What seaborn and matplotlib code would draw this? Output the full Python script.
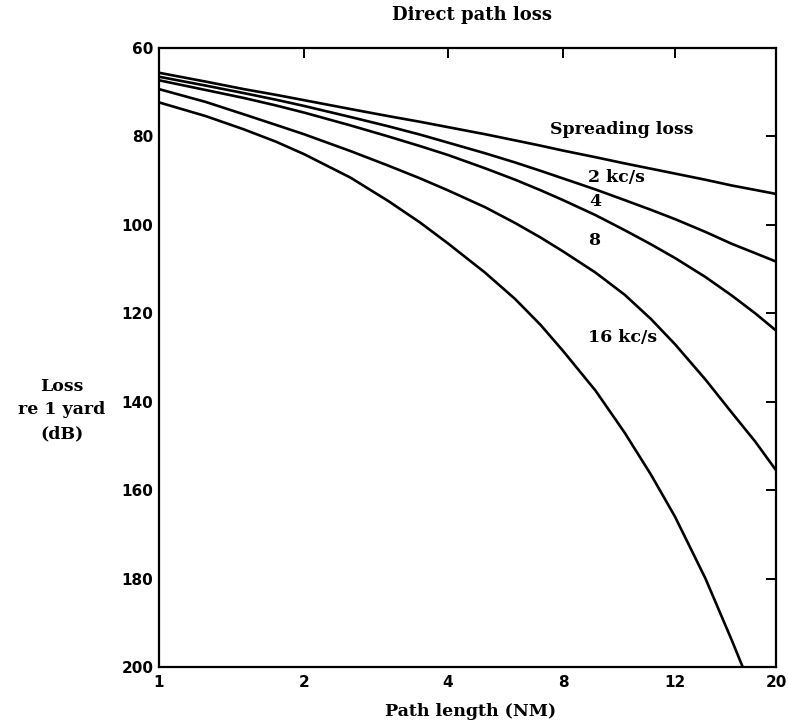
import numpy as np
import pandas as pd
import matplotlib
matplotlib.use("Agg")
import matplotlib.pyplot as plt
import seaborn as sns

# ---- data ----
x_ticks = [1, 2, 4, 8, 12, 20]
x_tick_pos = [0, 145, 289, 404, 516, 617]   # irregular printed axis spacing
y_ticks = [60, 80, 100, 120, 140, 160, 180, 200]

dist = [1, 1.25, 1.5, 1.75, 2, 2.5, 3, 3.5, 4, 5, 6, 7, 8, 9, 10, 11, 12, 14, 16, 18, 20]
spreading = [65.6, 67.6, 69.3, 70.6, 71.8, 73.8, 75.4, 76.7, 77.9, 79.5, 80.9,
             82.1, 83.2, 84.7, 86.1, 87.3, 88.4, 89.8, 91.1, 92.1, 93.0]
kc2 = [66.5, 68.5, 70.2, 71.7, 73.1, 75.6, 77.7, 79.6, 81.4, 83.8, 85.9,
       87.8, 89.5, 92.0, 94.4, 96.6, 98.7, 101.6, 104.3, 106.4, 108.3]
kc4 = [67.3, 69.5, 71.3, 73.0, 74.6, 77.5, 80.0, 82.2, 84.2, 87.2, 89.8,
       92.2, 94.4, 97.8, 101.2, 104.4, 107.5, 111.8, 116.0, 120.0, 123.9]
kc8 = [69.3, 72.2, 75.0, 77.4, 79.5, 83.3, 86.6, 89.5, 92.2, 96.0, 99.6,
       102.9, 106.0, 110.8, 115.8, 121.3, 127.0, 135.0, 142.5, 149.0, 155.5]
dist16 = [1, 1.25, 1.5, 1.75, 2, 2.5, 3, 3.5, 4, 5, 6, 7, 8, 9, 10, 11, 12, 14, 16, 16.9]
kc16 = [72.3, 75.4, 78.4, 81.2, 84.0, 89.3, 94.6, 99.5, 104.2, 110.8, 116.8,
        122.7, 128.5, 137.5, 147.0, 156.5, 166.0, 180.0, 194.0, 200.0]

series_names = ["Spreading loss", "2 kc/s", "4 kc/s", "8 kc/s", "16 kc/s"]

frames = []
for name, xs, ys in [("Spreading loss", dist, spreading), ("2 kc/s", dist, kc2),
                     ("4 kc/s", dist, kc4), ("8 kc/s", dist, kc8),
                     ("16 kc/s", dist16, kc16)]:
    frames.append(pd.DataFrame({"dist": xs, "loss": ys, "series": name}))
df = pd.concat(frames, ignore_index=True)

sns.set_style("white")
plt.rcParams["font.family"] = ["DejaVu Serif"]
plt.rcParams["text.color"] = "black"
plt.rcParams["axes.labelcolor"] = "black"
plt.rcParams["xtick.color"] = "black"
plt.rcParams["ytick.color"] = "black"

fig = plt.figure(figsize=(7.88, 7.27), dpi=100)
ax = fig.add_axes([159 / 788, 1 - 667 / 727, 617 / 788, 619 / 727])

logt = np.log(x_ticks)
pos = np.array(x_tick_pos, dtype=float)


def fwd(x):
    x = np.clip(np.asarray(x, dtype=float), 1e-6, None)
    return np.interp(np.log(x), logt, pos)


def inv(p):
    return np.exp(np.interp(np.asarray(p, dtype=float), pos, logt))


ax.set_xscale("function", functions=(fwd, inv))

sns.lineplot(data=df, x="dist", y="loss", hue="series", units="series",
             estimator=None, sort=False, palette=["black"] * 5,
             hue_order=series_names, legend=False, linewidth=1.9, ax=ax)

ax.set_xlim(1, 20)
ax.set_ylim(200, 60)
ax.set_xticks(x_ticks)
ax.set_xticklabels([str(t) for t in x_ticks])
ax.set_yticks(y_ticks)
ax.set_yticklabels([str(t) for t in y_ticks])
ax.minorticks_off()

ax.tick_params(axis="both", direction="in", length=7, width=1.4,
               top=True, right=True, labelsize=11, colors="black")
ax.tick_params(axis="x", pad=6)
ax.tick_params(axis="y", pad=4)
for lab in ax.get_xticklabels() + ax.get_yticklabels():
    lab.set_family("DejaVu Sans")
    lab.set_fontweight("bold")
    lab.set_color("black")

for s in ax.spines.values():
    s.set_visible(True)
    s.set_color("black")
    s.set_linewidth(1.6)

ax.set_xlabel("")
ax.set_ylabel("")

fig.text(0.599, 1 - 15 / 727, "Direct path loss", ha="center", va="center",
         fontsize=13, fontweight="bold", color="black")
fig.text(0.597, 1 - 712 / 727, "Path length (NM)", ha="center", va="center",
         fontsize=12.5, fontweight="bold", color="black")
fig.text(62 / 788, 1 - 410 / 727, "Loss\nre 1 yard\n(dB)", ha="center",
         va="center", fontsize=12.5, fontweight="bold", linespacing=1.5,
         color="black")

lab_kw = dict(transform=ax.transAxes, fontsize=12.5, fontweight="bold",
              ha="left", va="center", color="black")
ax.text((550 - 159) / 617, (667 - 130) / 619, "Spreading loss", **lab_kw)
ax.text((588 - 159) / 617, (667 - 177) / 619, "2 kc/s", **lab_kw)
ax.text((589 - 159) / 617, (667 - 202) / 619, "4", **lab_kw)
ax.text((588 - 159) / 617, (667 - 240) / 619, "8", **lab_kw)
ax.text((588 - 159) / 617, (667 - 337) / 619, "16 kc/s", **lab_kw)

fig.savefig("out.png", dpi=100, facecolor="white")
